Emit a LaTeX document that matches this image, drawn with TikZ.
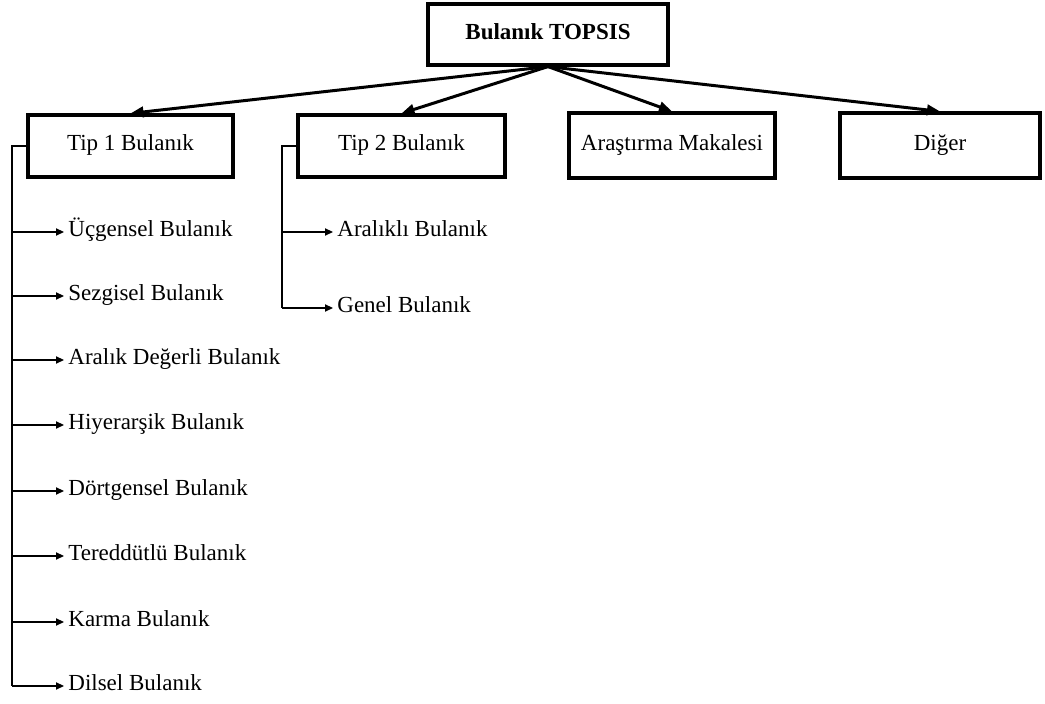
\documentclass[tikz,border=0pt]{standalone}
\usepackage{fontspec}
\setmainfont{Liberation Serif}
\usetikzlibrary{arrows.meta}
\begin{document}
\begin{tikzpicture}[x=0.5pt,y=-0.5pt,
  txt/.style={font=\fontsize{11.5}{13}\selectfont,text height=0.7em,text depth=0.22em},
  box/.style={txt,draw,line width=1.6pt,inner sep=0pt},
  leaf/.style={txt,anchor=west,inner sep=2pt},
  bigarr/.style={line width=1.5pt,-{Triangle[length=6.5pt,width=5.2pt]}},
  line/.style={line width=0.6pt},
  arr/.style={line width=0.6pt,-{Triangle[length=4pt,width=3.6pt]}}]
\useasboundingbox (0,0) rectangle (1045,704);
\node[box,minimum width=120pt,minimum height=30.5pt,font=\fontsize{11.5}{13}\selectfont\bfseries] (top) at (548,34.5) {Bulanık TOPSIS};
\node[box,minimum width=102.5pt,minimum height=31pt] (t1) at (130.5,146) {Tip 1 Bulanık};
\node[box,minimum width=103.5pt,minimum height=31pt] (t2) at (401.5,146) {Tip 2 Bulanık};
\node[box,minimum width=103pt,minimum height=32.5pt] (ar) at (672,145.5) {Araştırma Makalesi};
\node[box,minimum width=100pt,minimum height=32.5pt] (di) at (940,145.5) {Diğer};
\draw[bigarr] (top.south) -- (t1.north);
\draw[bigarr] (top.south) -- (t2.north);
\draw[bigarr] (top.south) -- (ar.north);
\draw[bigarr] (top.south) -- (di.north);
% Tip 1 branches
\node[leaf] (a1) at (64,232) {Üçgensel Bulanık};
\node[leaf] (a2) at (64,296) {Sezgisel Bulanık};
\node[leaf] (a3) at (64,360) {Aralık Değerli Bulanık};
\node[leaf] (a4) at (64,425) {Hiyerarşik Bulanık};
\node[leaf] (a5) at (64,491) {Dörtgensel Bulanık};
\node[leaf] (a6) at (64,556) {Tereddütlü Bulanık};
\node[leaf] (a7) at (64,622) {Karma Bulanık};
\node[leaf] (a8) at (64,686) {Dilsel Bulanık};
\coordinate (k1) at (12,146);
\draw[line] (t1.west) -- (k1) -- (k1 |- a8.west);
\foreach \i in {1,...,8} {\draw[arr] (k1 |- a\i.west) -- (a\i.west);}
% Tip 2 branches
\node[leaf] (b1) at (333,232) {Aralıklı Bulanık};
\node[leaf] (b2) at (333,308) {Genel Bulanık};
\coordinate (k2) at (282,146);
\draw[line] (t2.west) -- (k2) -- (k2 |- b2.west);
\foreach \i in {1,2} {\draw[arr] (k2 |- b\i.west) -- (b\i.west);}
\end{tikzpicture}
\end{document}
